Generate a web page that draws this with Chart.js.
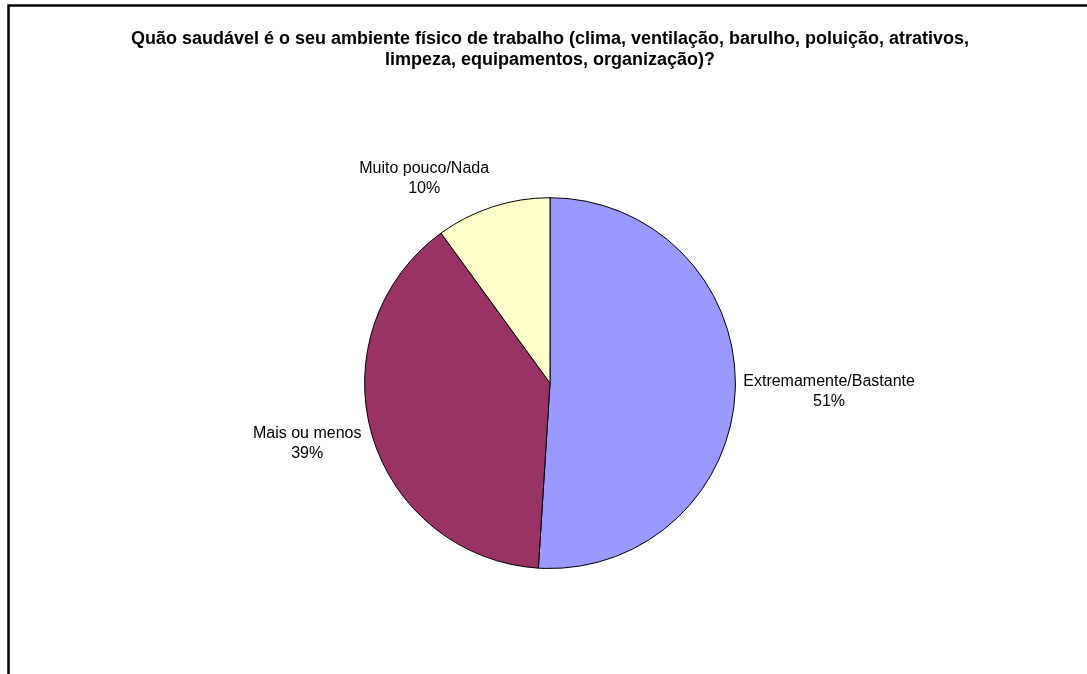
<!DOCTYPE html>
<html lang="pt">
<head>
<meta charset="utf-8">
<title>Ambiente físico de trabalho</title>
<script src="https://cdn.jsdelivr.net/npm/chart.js@4/dist/chart.umd.min.js"></script>
<style>
  html, body { margin: 0; padding: 0; background: #fff; }
  #wrap { width: 1087px; height: 674px; position: relative; }
</style>
</head>
<body>
<div id="wrap"><canvas id="grafico"></canvas></div>
<script>
// respostas da pergunta sobre o ambiente físico
const categorias = ['Extremamente/Bastante', 'Mais ou menos', 'Muito pouco/Nada'];
const percentuais = [51, 39, 10];
const cores = ['#9999FF', '#993366', '#FFFFCC'];
const tituloLinhas = [
    'Quão saudável é o seu ambiente físico de trabalho (clima, ventilação, barulho, poluição, atrativos,',
    'limpeza, equipamentos, organização)?'
];

Chart.defaults.font.family = '"Liberation Sans", Arial, sans-serif';
Chart.defaults.color = '#000';

// moldura: só as bordas superior e esquerda aparecem
const moldura = {
    id: 'moldura',
    beforeDraw(chart) {
        const ctx = chart.ctx;
        ctx.save();
        ctx.strokeStyle = '#000';
        ctx.lineWidth = 2.5;
        ctx.beginPath();
        ctx.moveTo(8.5, chart.height);
        ctx.lineTo(8.5, 5.5);
        ctx.lineTo(chart.width, 5.5);
        ctx.stroke();
        ctx.restore();
    }
};

// rótulos fora das fatias: nome + percentual
const rotulos = {
    id: 'rotulos',
    afterDatasetsDraw(chart, args, opts) {
        const ctx = chart.ctx;
        const meta = chart.getDatasetMeta(0);
        const dados = chart.data.datasets[0].data;
        ctx.save();
        ctx.font = opts.font;
        ctx.fillStyle = '#000';
        ctx.textAlign = 'center';
        ctx.textBaseline = 'middle';
        meta.data.forEach((arco, i) => {
            const p = arco.getProps(['x', 'y', 'startAngle', 'endAngle', 'outerRadius'], true);
            const meio = (p.startAngle + p.endAngle) / 2;
            const dx = Math.cos(meio), dy = Math.sin(meio);
            const linhas = [chart.data.labels[i], dados[i] + '%'];
            const larg = Math.max(...linhas.map(t => ctx.measureText(t).width));
            const alt = linhas.length * opts.lineHeight;
            const ajuste = opts.ajustes[i] || { x: 0, y: 0 };
            const cx = p.x + (p.outerRadius + opts.gap) * dx + dx * larg / 2 + ajuste.x;
            const cy = p.y + (p.outerRadius + opts.gap) * dy + dy * alt / 2 + ajuste.y;
            linhas.forEach((t, k) => {
                ctx.fillText(t, cx, cy - alt / 2 + opts.lineHeight * (k + 0.5));
            });
        });
        ctx.restore();
    }
};

new Chart(document.getElementById('grafico'), {
    type: 'pie',
    data: {
        labels: categorias,
        datasets: [{
            data: percentuais,
            backgroundColor: cores,
            borderColor: '#000',
            borderWidth: 1
        }]
    },
    options: {
        responsive: true,
        maintainAspectRatio: false,
        animation: false,
        layout: { padding: { top: 0, bottom: 105, left: 13, right: 0 } },
        plugins: {
            legend: { display: false },
            tooltip: { enabled: false },
            title: {
                display: true,
                text: tituloLinhas,
                color: '#000',
                font: { size: 18, weight: 'bold' },
                lineHeight: 21 / 18,
                padding: { top: 28, bottom: 126 }
            },
            rotulos: {
                font: '16px "Liberation Sans", Arial, sans-serif',
                lineHeight: 20,
                gap: 8,
                ajustes: [{ x: 0, y: 2 }, { x: -5, y: 1 }, { x: -46, y: -2 }]
            }
        }
    },
    plugins: [moldura, rotulos]
});
</script>
</body>
</html>
